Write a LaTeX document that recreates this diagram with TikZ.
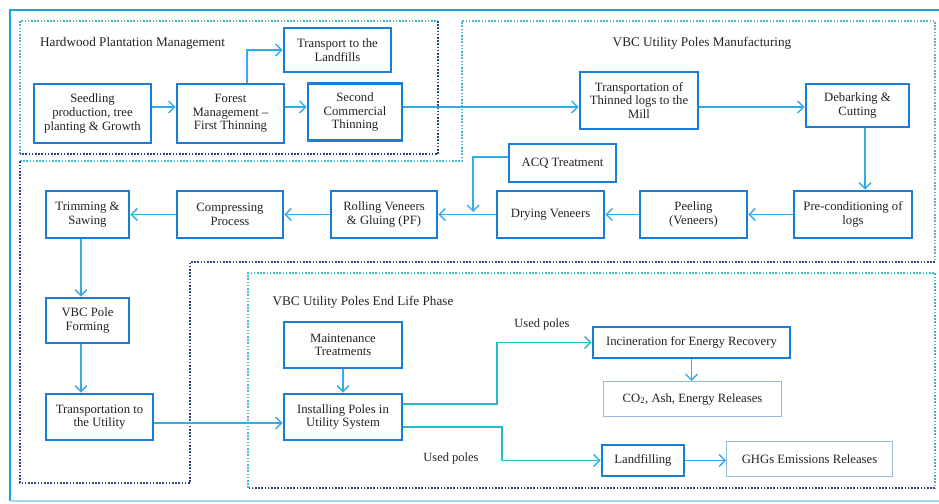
\documentclass[tikz,border=0pt]{standalone}
\usepackage{fontspec}
\setmainfont{Liberation Serif}
\usetikzlibrary{arrows.meta}
\definecolor{boxblue}{RGB}{25,125,215}
\definecolor{boxnavy}{RGB}{30,50,135}
\definecolor{thinblue}{RGB}{150,185,225}
\definecolor{arrblue}{RGB}{50,172,232}
\definecolor{arrteal}{RGB}{40,185,205}
\definecolor{dotteal}{RGB}{70,185,200}
\definecolor{dotnavy}{RGB}{45,70,150}
\definecolor{frameblue}{RGB}{20,165,230}
\definecolor{framelight}{RGB}{160,222,245}
\definecolor{txt}{RGB}{35,35,35}
\tikzset{
  box/.style={draw=boxblue, line width=2.6pt, fill=white, align=center, inner sep=1pt,
    font=\fontsize{12.7}{13.6}\selectfont, text=txt,
    append after command={
      \pgfextra{\draw[boxnavy, line width=0.9pt]
        ([shift={(1.4pt,1.4pt)}]\tikzlastnode.south west) rectangle
        ([shift={(-1.4pt,-1.4pt)}]\tikzlastnode.north east);}}},
  thinbox/.style={draw=thinblue, line width=1pt, fill=white, align=center, inner sep=1pt,
    font=\fontsize{12.7}{13.6}\selectfont, text=txt},
  heading/.style={font=\fontsize{13.2}{15}\selectfont, text=txt, inner sep=0pt},
  lbl/.style={font=\fontsize{12.5}{14}\selectfont, text=txt, inner sep=0pt},
  arr/.style={draw=arrblue, line width=1.4pt, -{Straight Barb[length=6pt,width=12pt]}},
  arrt/.style={draw=arrteal, line width=1.4pt, -{Straight Barb[length=6pt,width=12pt]}},
  dotlight/.style={draw=dotteal, line width=1.7pt, dash pattern=on 1.6pt off 1.6pt},
  dotdark/.style={draw=dotnavy, line width=1.7pt, dash pattern=on 1.6pt off 1.6pt},
}
\begin{document}
\begin{tikzpicture}[x=1pt,y=-1pt]
\useasboundingbox (0,0) rectangle (939,503);
% outer frame
\draw[frameblue, line width=2pt] (10,501) -- (10,10) -- (945,10);
\draw[framelight, line width=2pt] (10,501) -- (945,501);
% dotted regions
\draw[dotlight] (20,154) -- (20,21) -- (438,21);
\draw[dotdark] (438,21) -- (438,154) -- (20,154);
\draw[dotlight] (20,161) -- (462,161) -- (462,21) -- (935,21) -- (935,262);
\draw[dotdark] (935,262) -- (190,262) -- (190,483) -- (20,483) -- (20,161);
\draw[dotlight] (248,488) -- (248,273) -- (935,273) -- (935,488);
\draw[dotdark] (935,488) -- (248,488);
% headings
\node[heading, anchor=west] (hHard) at (40,43) {Hardwood Plantation Management};
\node[heading] (hManu) at (702,43) {VBC Utility Poles Manufacturing};
\node[heading] (hEnd) at (363,302) {VBC Utility Poles End Life Phase};
% nodes
\node[box, minimum width=117pt, minimum height=59pt] (seed) at (92.5,113.5) {Seedling\\production, tree\\planting \& Growth};
\node[box, minimum width=107pt, minimum height=59pt] (forest) at (230.5,113.5) {Forest\\Management –\\First Thinning};
\node[box, minimum width=94pt, minimum height=57pt] (second) at (355,112) {Second\\Commercial\\Thinning};
\node[box, minimum width=107pt, minimum height=44pt] (landf) at (337.5,50) {Transport to the\\Landfills};
\node[box, minimum width=118pt, minimum height=57pt] (tthin) at (639,100.5) {Transportation of\\Thinned logs to the\\Mill};
\node[box, minimum width=103pt, minimum height=43pt] (debark) at (857.5,105.5) {Debarking \&\\Cutting};
\node[box, minimum width=107pt, minimum height=38pt] (acq) at (562.5,163) {ACQ Treatment};
\node[box, minimum width=107pt, minimum height=47pt] (dry) at (550.5,214.5) {Drying Veneers};
\node[box, minimum width=107pt, minimum height=47pt] (peel) at (693.5,214.5) {Peeling\\(Veneers)};
\node[box, minimum width=118pt, minimum height=47pt] (precond) at (853,214.5) {Pre-conditioning of\\logs};
\node[box, minimum width=106pt, minimum height=47pt] (roll) at (384,214.5) {Rolling Veneers\\\& Gluing (PF)};
\node[box, minimum width=106pt, minimum height=47pt] (comp) at (230,214.5) {Compressing\\Process};
\node[box, minimum width=83pt, minimum height=47pt] (trim) at (87.5,214.5) {Trimming \&\\Sawing};
\node[box, minimum width=83pt, minimum height=45pt] (vbc) at (87.5,320.5) {VBC Pole\\Forming};
\node[box, minimum width=107pt, minimum height=46pt] (tutil) at (99.5,417) {Transportation to\\the Utility};
\node[box, minimum width=118pt, minimum height=46pt] (maint) at (343,345) {Maintenance\\Treatments};
\node[box, minimum width=118pt, minimum height=46pt] (install) at (343,417) {Installing Poles in\\Utility System};
\node[box, minimum width=197pt, minimum height=31pt] (incin) at (691.5,342.5) {Incineration for Energy Recovery};
\node[thinbox, minimum width=178pt, minimum height=35pt] (co2) at (692.5,399) {CO\textsubscript{2}, Ash, Energy Releases};
\node[box, minimum width=82pt, minimum height=31pt] (landfill) at (643,460.5) {Landfilling};
\node[thinbox, minimum width=166pt, minimum height=35pt] (ghg) at (809.5,459) {GHGs Emissions Releases};
% labels
\node[lbl] (used1) at (542,324) {Used poles};
\node[lbl] (used2) at (451,458) {Used poles};
% helper coordinates
\coordinate (r107) at (0,107);
\coordinate (r157) at (0,157);
\coordinate (r404) at (0,404);
\coordinate (r423) at (0,423);
\coordinate (r427) at (0,427);
\coordinate (c81) at (81,0);
\coordinate (c247) at (247,0);
\coordinate (c497) at (497,0);
\coordinate (c502) at (502,0);
\coordinate (c865) at (865,0);
\coordinate (acqj) at (473,212);
% connectors
\draw[arr] (seed.east |- r107) -- (forest.west |- r107);
\draw[arr] (forest.north -| c247) |- (landf.west);
\draw[arr] (forest.east |- r107) -- (second.west |- r107);
\draw[arr] (second.east |- r107) -- (tthin.west |- r107);
\draw[arr] (tthin.east |- r107) -- (debark.west |- r107);
\draw[arr] (debark.south -| c865) -- (precond.north -| c865);
\draw[arr] (precond.west) -- (peel.east);
\draw[arr] (peel.west) -- (dry.east);
\draw[arr] (dry.west) -- (roll.east);
\draw[arr] (acq.west |- r157) -| (acqj);
\draw[arr] (roll.west) -- (comp.east);
\draw[arr] (comp.west) -- (trim.east);
\draw[arr] (trim.south -| c81) -- (vbc.north -| c81);
\draw[arr] (vbc.south -| c81) -- (tutil.north -| c81);
\draw[arr] (tutil.east |- r423) -- (install.west |- r423);
\draw[arr] (maint.south) -- (install.north);
\draw[arrt] (install.east |- r404) -| (c497 |- incin.west) -- (incin.west);
\draw[arrt] (install.east |- r427) -| (c502 |- landfill.west) -- (landfill.west);
\draw[arr] (incin.south) -- (incin.south |- co2.north);
\draw[arr] (landfill.east) -- (landfill.east -| ghg.west);
\end{tikzpicture}
\end{document}
